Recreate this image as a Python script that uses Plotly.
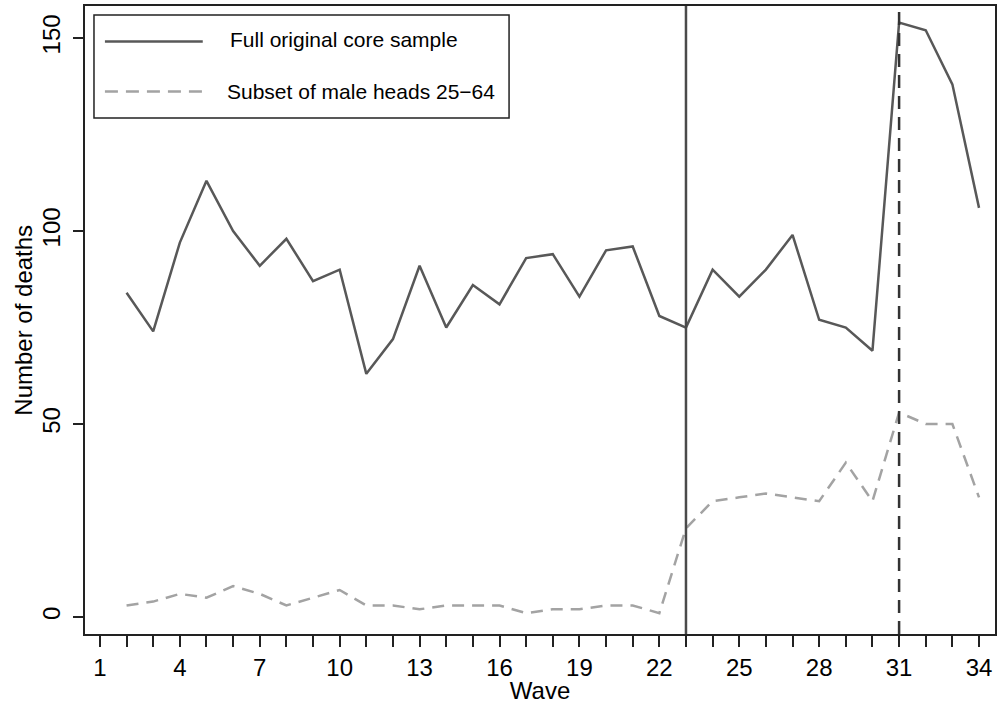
import plotly.graph_objects as go

waves = list(range(2, 35))
full_sample = [84, 74, 97, 113, 100, 91, 98, 87, 90, 63, 72, 91, 75, 86, 81, 93, 94, 83,
               95, 96, 78, 75, 90, 83, 90, 99, 77, 75, 69, 154, 152, 138, 106]
male_heads = [3, 4, 6, 5, 8, 6, 3, 5, 7, 3, 3, 2, 3, 3, 3, 1, 2, 2,
              3, 3, 1, 23, 30, 31, 32, 31, 30, 40, 30, 53, 50, 50, 31]
x_tickvals = list(range(1, 35))
x_ticktext = [str(v) if (v - 1) % 3 == 0 else "" for v in x_tickvals]
y_tickvals = [0, 50, 100, 150]
solid_vline = 23
dashed_vline = 31
legend_names = ["Full original core sample", "Subset of male heads 25\u221264"]

FONT = "Liberation Sans, Arial, Helvetica, sans-serif"
C_FULL = "#585858"
C_MALE = "#a3a3a3"

fig = go.Figure()
fig.add_trace(go.Scatter(x=waves, y=full_sample, mode="lines", name=legend_names[0],
                         line=dict(color=C_FULL, width=2.5), showlegend=False))
fig.add_trace(go.Scatter(x=waves, y=male_heads, mode="lines", name=legend_names[1],
                         line=dict(color=C_MALE, width=2.5, dash="12px,8px"), showlegend=False))

shapes = [
    dict(type="line", xref="x", yref="paper", x0=solid_vline, x1=solid_vline, y0=0, y1=1,
         line=dict(color="#4a4a4a", width=2.5)),
    dict(type="line", xref="x", yref="paper", x0=dashed_vline, x1=dashed_vline, y0=0, y1=1,
         line=dict(color="#333333", width=2.5, dash="13px,8px")),
    # manual legend
    dict(type="rect", xref="paper", yref="paper", x0=0.00987, x1=0.466, y0=0.8217, y1=0.9857,
         line=dict(color="#222222", width=1.5), fillcolor="white", layer="above"),
    dict(type="line", xref="paper", yref="paper", x0=0.0219, x1=0.1294, y0=0.9435, y1=0.9435,
         line=dict(color=C_FULL, width=2.5), layer="above"),
    dict(type="line", xref="paper", yref="paper", x0=0.0219, x1=0.1294, y0=0.8638, y1=0.8638,
         line=dict(color=C_MALE, width=2.5, dash="13px,8px"), layer="above"),
]
annotations = [
    dict(xref="paper", yref="paper", x=0.1568, y=0.9459, text=legend_names[0], showarrow=False,
         xanchor="left", yanchor="middle", font=dict(family=FONT, size=21, color="black")),
    dict(xref="paper", yref="paper", x=0.1535, y=0.8646, text=legend_names[1], showarrow=False,
         xanchor="left", yanchor="middle", font=dict(family=FONT, size=21, color="black")),
    dict(xref="paper", yref="paper", x=-0.0685, y=0.5, text="Number of deaths", showarrow=False,
         textangle=-90, xanchor="center", yanchor="middle",
         font=dict(family=FONT, size=24, color="black")),
]

fig.update_layout(
    width=999, height=704,
    margin=dict(l=85, r=2, t=6, b=70),
    paper_bgcolor="white", plot_bgcolor="white",
    font=dict(family=FONT, size=24, color="black"),
    shapes=shapes, annotations=annotations,
    showlegend=False,
)
fig.update_xaxes(
    range=[0.44, 34.6], tickmode="array", tickvals=x_tickvals, ticktext=x_ticktext,
    ticks="outside", ticklen=11, tickwidth=2, tickcolor="#222222",
    showline=True, linecolor="#222222", linewidth=2, mirror=True,
    showgrid=False, zeroline=False,
    tickfont=dict(family=FONT, size=24, color="black"),
    title=dict(text="Wave", font=dict(family=FONT, size=24, color="black"), standoff=0),
)
fig.update_yaxes(
    range=[-4.4, 158.3], tickmode="array", tickvals=y_tickvals,
    ticks="outside", ticklen=10, tickwidth=2, tickcolor="#222222", tickangle=-90,
    ticklabelstandoff=3,
    showline=True, linecolor="#222222", linewidth=2, mirror=True,
    showgrid=False, zeroline=False,
    tickfont=dict(family=FONT, size=24, color="black"),
)

fig.write_html("out.html")
